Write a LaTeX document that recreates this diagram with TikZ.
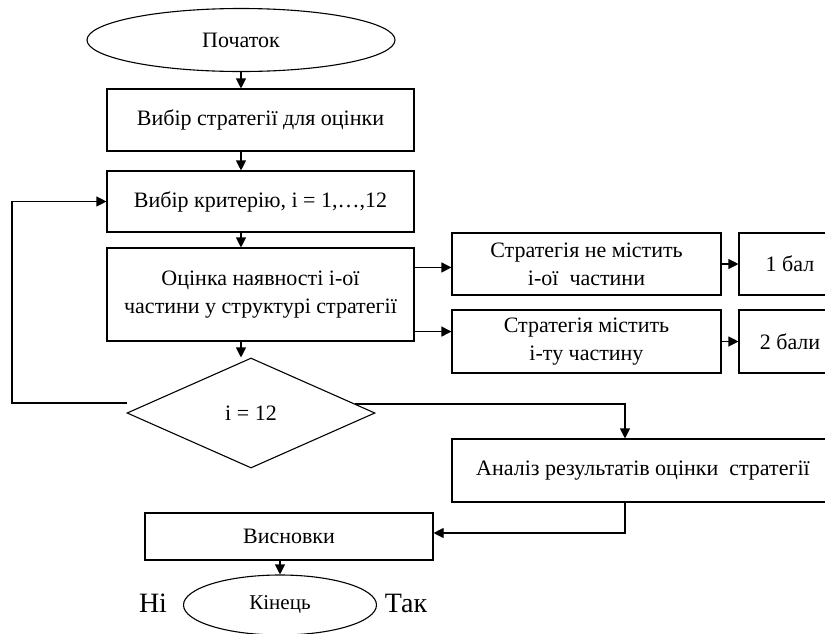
\documentclass[tikz,border=0pt]{standalone}
\usepackage{fontspec}
\setmainfont{Liberation Serif}
\usetikzlibrary{shapes.geometric,arrows.meta,calc}
\begin{document}
\begin{tikzpicture}[x=1pt,y=-1pt]
	\tikzset{blok/.style={draw,rectangle,line width=1.1pt,inner sep=0pt,align=center,font=\fontsize{22}{28}\selectfont},
		term/.style={draw,ellipse,line width=1.1pt,inner sep=0pt,font=\fontsize{22}{28}\selectfont},
		umova/.style={draw,diamond,line width=1.1pt,inner sep=0pt,font=\fontsize{22}{28}\selectfont},
		strilka/.style={line width=1.1pt,-{Triangle[length=10pt,width=10pt]}},
		pidpys/.style={font=\fontsize{28}{32}\selectfont}}
	\useasboundingbox (0,0) rectangle (825,633);
	\clip (0,0) rectangle (825,633);
	\node [term,minimum width=308pt,minimum height=63pt]		(pochatok)	at (241,40)		{Початок};
	\node [blok,minimum width=307pt,minimum height=62pt]		(vybir)		at (260.5,120)	{Вибір стратегії для оцінки};
	\node [blok,minimum width=307pt,minimum height=61pt]		(kryterij)	at (260.5,201.5){Вибір критерію, i = 1,…,12};
	\node [blok,minimum width=307pt,minimum height=93pt]		(ocinka)	at (260.5,294.5){Оцінка наявності і-ої\\ частини у структурі стратегії};
	\node [blok,minimum width=269pt,minimum height=62pt]		(nemistyt)	at (586.5,264)	{Стратегія не містить\\ і-ої\ \ частини};
	\node [blok,minimum width=102pt,minimum height=62pt]		(bal1)		at (790,264)	{1 бал};
	\node [blok,minimum width=269pt,minimum height=63pt]		(mistyt)	at (586.5,341.5){Стратегія містить\\ і-ту частину};
	\node [blok,minimum width=102pt,minimum height=63pt]		(bal2)		at (790,341.5)	{2 бали};
	\node [umova,minimum width=248pt,minimum height=110pt]	(umova)		at (251,413)	{i = 12};
	\node [blok,minimum width=382pt,minimum height=63pt]		(analiz)	at (643,470.5)	{Аналіз результатів оцінки\ \ стратегії};
	\node [blok,minimum width=288pt,minimum height=47pt]		(vysnovky)	at (289,536.5)	{Висновки};
	\node [term,minimum width=193pt,minimum height=60pt,font=\fontsize{21}{25}\selectfont]	(kinec)	at (280,605)	{Кінець};
	\node [pidpys]											(ni)		at (153,603)	{Ні};
	\node [pidpys]											(tak)		at (406,603)	{Так};
	\coordinate (vidhil)	at ($(ocinka.north east)+(0,20)$);
	\coordinate (vidhil2)	at ($(ocinka.south east)+(0,-10)$);
	\coordinate (nazad)		at (127,403);
	\coordinate (vpered)	at (355,404);
	\coordinate (povorot)	at (625,404);
	\coordinate (vnyz)		at (625,533);
	\draw [strilka] (pochatok.south)			-- (pochatok.south |- vybir.north);
	\draw [strilka] (pochatok.south |- vybir.south)	-- (pochatok.south |- kryterij.north);
	\draw [strilka] (pochatok.south |- kryterij.south)	-- (pochatok.south |- ocinka.north);
	\draw [strilka] (pochatok.south |- ocinka.south)	-- (pochatok.south |- umova.north);
	\draw [strilka] (vidhil)	-- (vidhil -| nemistyt.west);
	\draw [strilka] (vidhil2)	-- (vidhil2 -| mistyt.west);
	\draw [strilka] (nemistyt.east)	-- (bal1.west);
	\draw [strilka] (mistyt.east |- bal2.west)	-- (bal2.west);
	\draw [strilka] (nazad) -- (12,403) |- (kryterij.west);
	\draw [strilka] (vpered) -- (povorot) -- (povorot |- analiz.north);
	\draw [strilka] (povorot |- analiz.south) -- (vnyz) -- (vnyz -| vysnovky.east);
	\draw [strilka] (kinec.north |- vysnovky.south) -- (kinec.north);
\end{tikzpicture}
\end{document}
